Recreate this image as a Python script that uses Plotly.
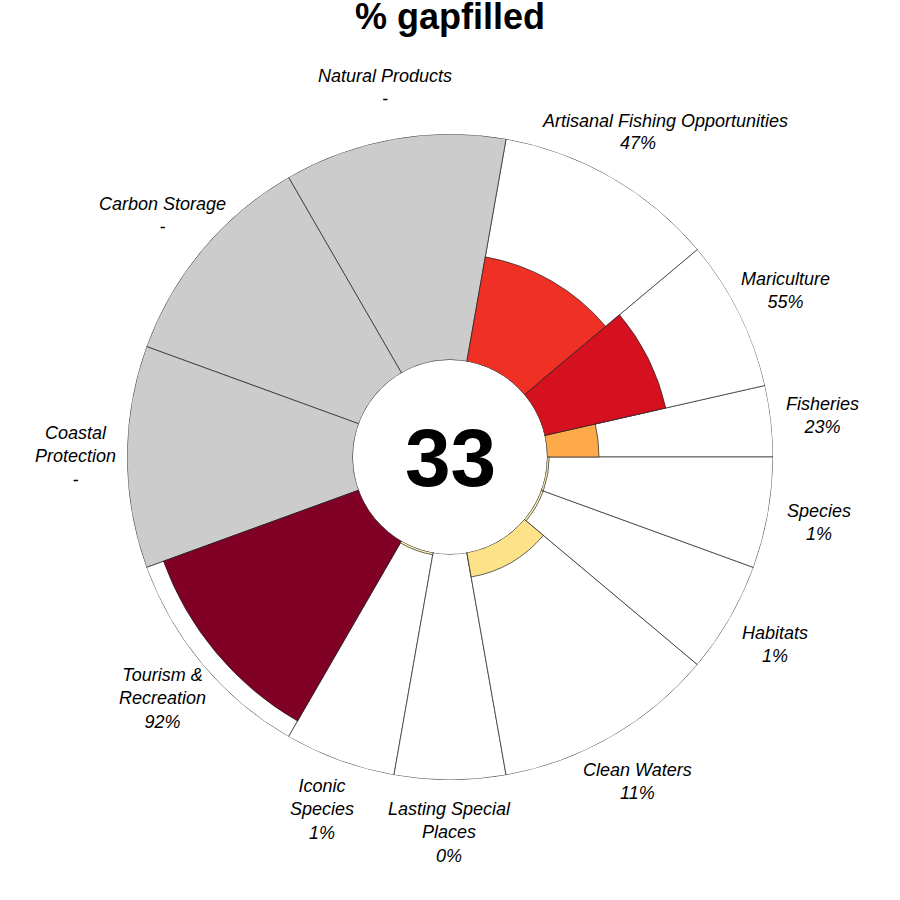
import math
import plotly.graph_objects as go

# ---------------- data ----------------
goal_names = ["Fisheries", "Mariculture", "Artisanal Fishing Opportunities",
              "Natural Products", "Carbon Storage", "Coastal Protection",
              "Tourism & Recreation", "Iconic Species", "Lasting Special Places",
              "Clean Waters", "Habitats", "Species"]
label_text = ["Fisheries", "Mariculture", "Artisanal Fishing Opportunities",
              "Natural Products", "Carbon Storage", "Coastal<br>Protection",
              "Tourism &<br>Recreation", "Iconic<br>Species", "Lasting Special<br>Places",
              "Clean Waters", "Habitats", "Species"]
sector_width = [12.8, 27.2, 40, 40, 40, 40, 40, 20, 20, 40, 20, 20]
gapfill_pct = [23, 55, 47, None, None, None, 92, 1, 0, 11, 1, 1]
overall_score = 33
title_text = "% gapfilled"

# ---------------- styles ----------------
bar_colors = ["#FEAA4A", "#D51120", "#EE3124", None, None, None,
              "#800026", "#FFF4B0", "#FFF4B0", "#FEE28A", "#FFF4B0", "#FFF4B0"]
na_color = "#CCCCCC"
edge = dict(color="#222222", width=0.7)
label_xshift = {"Artisanal Fishing Opportunities": 27}

W = H = 900
CX, CY = 450, 457          # polar centre (px from top-left)
R_OUT = 323
R_IN = 97
R_LABEL = 375

# sector centres
theta = []
acc = 0.0
for w in sector_width:
    theta.append(acc + w / 2)
    acc += w

fig = go.Figure()

# background (full) sectors
bg_colors = [na_color if v is None else "white" for v in gapfill_pct]
fig.add_trace(go.Barpolar(
    r=[100] * len(goal_names), theta=theta, width=sector_width,
    marker=dict(color=bg_colors, line=edge), hoverinfo="skip", showlegend=False))

# score bars
idx = [i for i, v in enumerate(gapfill_pct) if v is not None and v > 0]
fig.add_trace(go.Barpolar(
    r=[gapfill_pct[i] for i in idx], theta=[theta[i] for i in idx],
    width=[sector_width[i] for i in idx],
    marker=dict(color=[bar_colors[i] for i in idx], line=edge),
    text=[goal_names[i] for i in idx], hoverinfo="text", showlegend=False))

# hole outline
circ_t = [i * 2 for i in range(181)]
fig.add_trace(go.Scatterpolar(
    r=[0] * len(circ_t), theta=circ_t, mode="lines",
    line=dict(color="#555555", width=0.8), hoverinfo="skip",
    showlegend=False, cliponaxis=False))

fig.update_layout(
    width=W, height=H, margin=dict(l=0, r=0, t=0, b=0),
    paper_bgcolor="white", plot_bgcolor="white",
    polar=dict(
        domain=dict(x=[(CX - R_OUT) / W, (CX + R_OUT) / W],
                    y=[(H - CY - R_OUT) / H, (H - CY + R_OUT) / H]),
        bgcolor="white", hole=R_IN / R_OUT, barmode="overlay",
        radialaxis=dict(range=[0, 100], visible=False, showgrid=False),
        angularaxis=dict(visible=False, showgrid=False, showline=False,
                         direction="counterclockwise", rotation=0),
    ),
    title=dict(text="<b>" + title_text + "</b>", x=0.5, xanchor="center",
               y=0.996, yanchor="top",
               font=dict(family="Liberation Sans", size=36, color="black")),
)

lab_font = dict(family="Liberation Sans", size=18, color="black", style="italic")
for name, lt, th, v in zip(goal_names, label_text, theta, gapfill_pct):
    val = "-" if v is None else f"{v}%"
    x = (CX + R_LABEL * math.cos(math.radians(th))) / W
    y = (H - CY + R_LABEL * math.sin(math.radians(th))) / H
    if name in label_xshift:
        fig.add_annotation(x=x, y=y, xref="paper", yref="paper", text=lt,
                           showarrow=False, xanchor="center", yanchor="bottom",
                           xshift=label_xshift[name], yshift=-1, font=lab_font)
        fig.add_annotation(x=x, y=y, xref="paper", yref="paper", text=val,
                           showarrow=False, xanchor="center", yanchor="top",
                           yshift=1, font=lab_font)
    else:
        fig.add_annotation(x=x, y=y, xref="paper", yref="paper",
                           text=lt + "<br>" + val, showarrow=False,
                           xanchor="center", yanchor="middle", font=lab_font)

fig.add_annotation(x=CX / W, y=(H - CY) / H, xref="paper", yref="paper",
                   text=f"<b>{overall_score}</b>", showarrow=False,
                   xanchor="center", yanchor="middle",
                   font=dict(family="Liberation Sans", size=82, color="black"))

fig.write_html("out.html")
